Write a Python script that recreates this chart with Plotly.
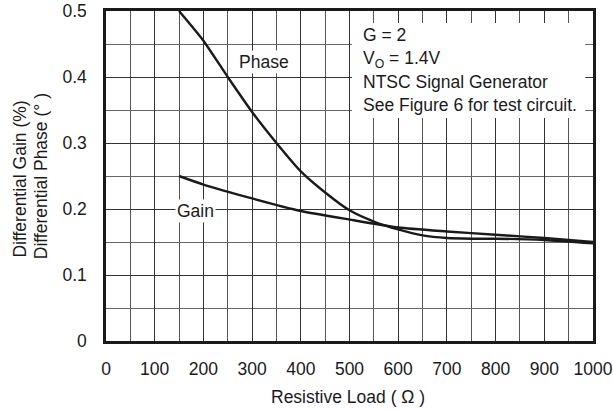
import plotly.graph_objects as go

# Data
phase_x = [150, 200, 250, 300, 350, 400, 450, 500, 550, 600, 650, 700, 750, 800, 900, 1000]
phase_y = [0.500, 0.455, 0.400, 0.347, 0.300, 0.257, 0.225, 0.198, 0.181, 0.169, 0.160, 0.156, 0.155, 0.155, 0.153, 0.148]

gain_x = [150, 200, 300, 400, 500, 600, 700, 800, 900, 1000]
gain_y = [0.250, 0.237, 0.216, 0.197, 0.184, 0.172, 0.166, 0.161, 0.156, 0.150]

x_ticks = [0, 100, 200, 300, 400, 500, 600, 700, 800, 900, 1000]
y_ticks = [0, 0.1, 0.2, 0.3, 0.4, 0.5]
y_labels = ["0", "0.1", "0.2", "0.3", "0.4", "0.5"]

note_lines = ["G = 2", "V<sub>O</sub> = 1.4V", "NTSC Signal Generator", "See Figure 6 for test circuit."]

FONT = "Liberation Sans, Arial, sans-serif"
INK = "#1a1a1a"
FS = 17.5

fig = go.Figure()
fig.add_trace(go.Scatter(x=phase_x, y=phase_y, mode="lines",
                         line=dict(color=INK, width=2.4, shape="spline", smoothing=0.6),
                         showlegend=False, hoverinfo="skip"))
fig.add_trace(go.Scatter(x=gain_x, y=gain_y, mode="lines",
                         line=dict(color=INK, width=2.4, shape="spline", smoothing=0.6),
                         showlegend=False, hoverinfo="skip"))

# white box behind the notes
fig.add_shape(type="rect", xref="x", yref="y", x0=505, x1=984, y0=0.338, y1=0.482,
              fillcolor="white", line=dict(width=0), layer="above")

note_y = [0.464, 0.426, 0.393, 0.358]
for txt, yy in zip(note_lines, note_y):
    fig.add_annotation(x=524, y=yy, xref="x", yref="y", text=txt, showarrow=False,
                       xanchor="left", yanchor="middle", font=dict(family=FONT, size=FS, color=INK))

fig.add_annotation(x=324, y=0.423, xref="x", yref="y", text="Phase", showarrow=False,
                   bgcolor="white", borderpad=1, font=dict(family=FONT, size=FS, color=INK))
fig.add_annotation(x=183, y=0.197, xref="x", yref="y", text="Gain", showarrow=False,
                   bgcolor="white", borderpad=1, font=dict(family=FONT, size=FS, color=INK))

# axis titles
fig.add_annotation(xref="paper", yref="paper", x=-0.176, y=0.49, text="Differential Gain (%)", showarrow=False,
                   textangle=-90, xanchor="center", yanchor="middle", font=dict(family=FONT, size=FS, color=INK))
fig.add_annotation(xref="paper", yref="paper", x=-0.133, y=0.5, text="Differential Phase (° )", showarrow=False,
                   textangle=-90, xanchor="center", yanchor="middle", font=dict(family=FONT, size=FS, color=INK))
fig.add_annotation(xref="paper", yref="paper", x=0.496, y=-0.17, text="Resistive Load ( Ω )", showarrow=False,
                   xanchor="center", yanchor="middle", font=dict(family=FONT, size=FS, color=INK))

fig.update_layout(
    width=613, height=410,
    margin=dict(l=106, r=20, t=11, b=69),
    paper_bgcolor="white", plot_bgcolor="white",
    font=dict(family=FONT, size=FS, color=INK),
    xaxis=dict(range=[0, 1000], tickvals=x_ticks, showgrid=True, gridcolor="#333", gridwidth=1.2,
               minor=dict(dtick=50, showgrid=True, gridcolor="#555", gridwidth=1),
               showline=True, linecolor=INK, linewidth=2.5, mirror=True, zeroline=False,
               ticks="", ticklabelstandoff=10, automargin=False),
    yaxis=dict(range=[0, 0.5], tickvals=y_ticks, ticktext=y_labels, showgrid=True, gridcolor="#333", gridwidth=1.2,
               minor=dict(dtick=0.05, showgrid=True, gridcolor="#666", gridwidth=1),
               showline=True, linecolor=INK, linewidth=2.5, mirror=True, zeroline=False,
               ticks="", ticklabelstandoff=13, automargin=False),
)

fig.write_html("out.html", config={"displayModeBar": False},
               post_script="document.body.style.margin='0px';document.body.style.overflow='hidden';")
